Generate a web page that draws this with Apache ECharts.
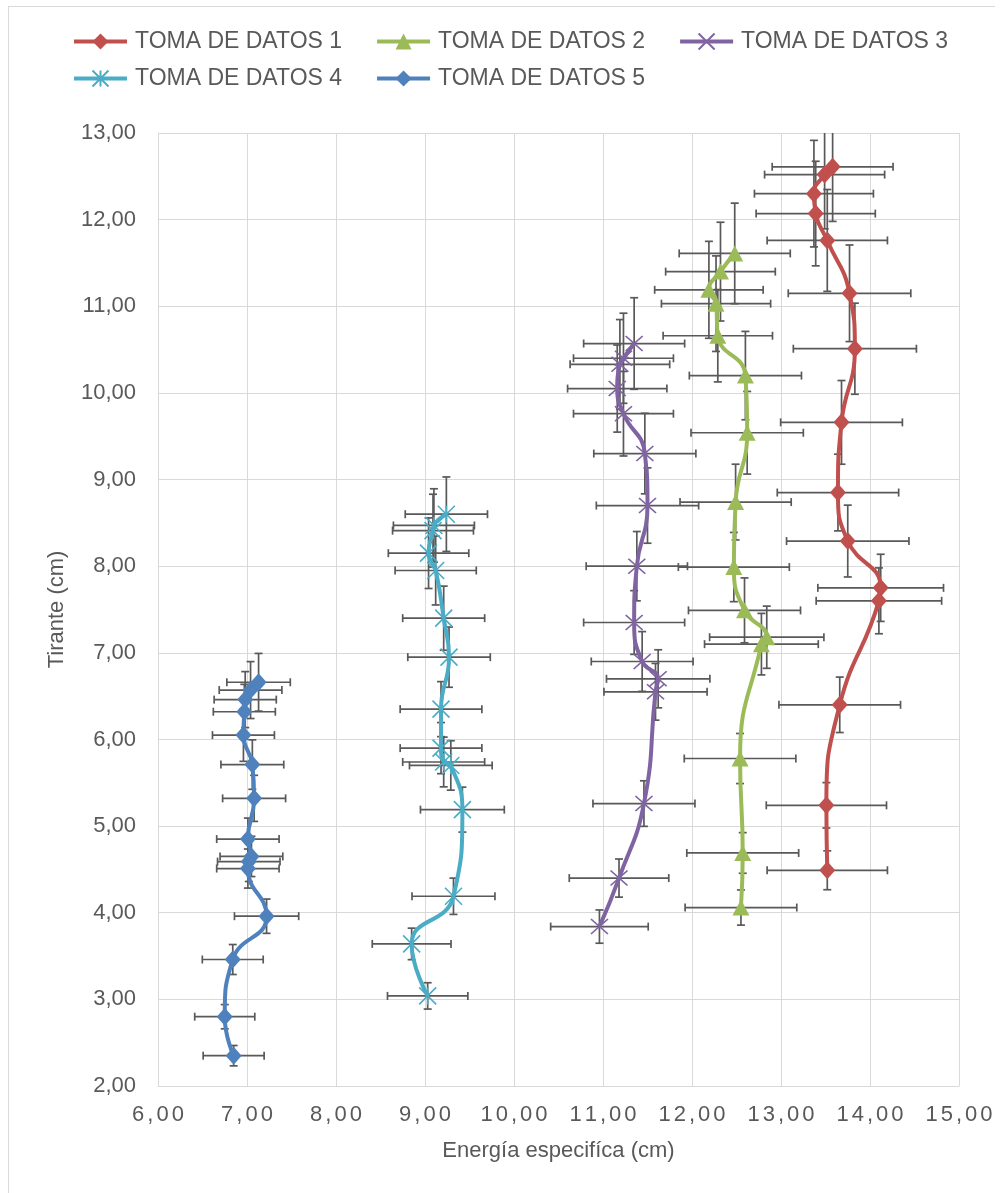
<!DOCTYPE html>
<html>
<head>
<meta charset="utf-8">
<script src="https://cdn.jsdelivr.net/npm/echarts@6/dist/echarts.min.js"></script>
<style>
html,body{margin:0;padding:0;background:#fff;}
#chart{width:1006px;height:1193px;}
</style>
</head>
<body>
<div id="chart"></div>
<script>
// ---- data ----
const seriesNames = ['TOMA DE DATOS 1','TOMA DE DATOS 2','TOMA DE DATOS 3','TOMA DE DATOS 4','TOMA DE DATOS 5'];

const toma1 = [[13.58,12.61],[13.49,12.52],[13.37,12.30],[13.39,12.07],[13.52,11.76],[13.77,11.15],[13.83,10.51],[13.68,9.66],[13.64,8.85],[13.75,8.29],[14.12,7.75],[14.10,7.60],[13.66,6.40],[13.51,5.24],[13.52,4.49]];
const toma2 = [[12.48,11.61],[12.32,11.40],[12.19,11.19],[12.27,11.03],[12.29,10.66],[12.60,10.20],[12.62,9.54],[12.49,8.74],[12.47,7.99],[12.59,7.49],[12.84,7.18],[12.78,7.10],[12.54,5.78],[12.57,4.69],[12.55,4.06]];
const toma3 = [[11.35,10.57],[11.23,10.40],[11.19,10.33],[11.16,10.05],[11.23,9.76],[11.47,9.30],[11.50,8.70],[11.38,8.00],[11.35,7.35],[11.44,6.90],[11.62,6.70],[11.59,6.55],[11.46,5.26],[11.18,4.40],[10.96,3.84]];
const toma4 = [[9.24,8.60],[9.10,8.47],[9.09,8.41],[9.04,8.15],[9.12,7.95],[9.21,7.40],[9.27,6.95],[9.18,6.35],[9.18,5.90],[9.21,5.74],[9.29,5.70],[9.42,5.19],[9.32,4.19],[8.85,3.64],[9.03,3.04]];
const toma5 = [[7.13,6.66],[7.04,6.57],[6.98,6.46],[6.97,6.32],[6.96,6.05],[7.06,5.71],[7.08,5.32],[7.01,4.85],[7.05,4.65],[7.02,4.59],[7.01,4.51],[7.22,3.96],[6.84,3.46],[6.75,2.80],[6.85,2.35]];

const xTicks = {min: 6, max: 15, interval: 1};
const yTicks = {min: 2, max: 13, interval: 1};
const errorFraction = 0.05; // error bars: 5% of each value

// ---- styling ----
const colors = ['#C0504D','#9BBB59','#8064A2','#4BACC6','#4F81BD'];
const FONT = '"Liberation Sans", Arial, sans-serif';
const TXT = '#595959';
const allData = [toma1,toma2,toma3,toma4,toma5];

const symbols = [
  {symbol:'diamond', size:[16,18], bw:0},
  {symbol:'triangle', size:[17,16], bw:0},
  {symbol:'path://M0,0 L10,10 M10,0 L0,10', size:[17,15], bw:1.6},
  {symbol:'path://M0,0 L10,10 M10,0 L0,10 M5,0 L5,10', size:[17,17], bw:1.6},
  {symbol:'diamond', size:[16,18], bw:0}
];

function fmt(v){ return v.toFixed(2).replace('.', ','); }

function renderErr(params, api){
  const x = api.value(0), y = api.value(1);
  const ex = x*errorFraction, ey = y*errorFraction;
  const c = api.coord([x,y]);
  const l = api.coord([x-ex,y]), r = api.coord([x+ex,y]);
  const t = api.coord([x,y+ey]), b = api.coord([x,y-ey]);
  const cap = 4;
  const st = {stroke:'#595959', lineWidth:1.7, fill:null};
  const L = (x1,y1,x2,y2)=>({type:'line', shape:{x1,y1,x2,y2}, style:st});
  return {type:'group', children:[
    L(l[0],c[1],r[0],c[1]),
    L(l[0],c[1]-cap,l[0],c[1]+cap),
    L(r[0],c[1]-cap,r[0],c[1]+cap),
    L(c[0],t[1],c[0],b[1]),
    L(c[0]-cap,t[1],c[0]+cap,t[1]),
    L(c[0]-cap,b[1],c[0]+cap,b[1])
  ]};
}

const series = [];
allData.forEach((d,i)=>{
  series.push({
    name: 'err'+i, type:'custom', coordinateSystem:'cartesian2d',
    renderItem: renderErr, data: d, encode:{x:0,y:1}, clip:true, z:1,
    silent:true
  });
});
allData.forEach((d,i)=>{
  series.push({
    name: seriesNames[i], type:'line', data:d, smooth:0.5, z:3,
    color: colors[i],
    symbol: symbols[i].symbol, symbolSize: symbols[i].size, showSymbol:true,
    lineStyle:{width:4, color:colors[i]},
    itemStyle:{color:colors[i], borderColor:colors[i], borderWidth:symbols[i].bw},
    emphasis:{disabled:true}
  });
});

const chart = echarts.init(document.getElementById('chart'), null, {renderer:'canvas'});
const legendCommon = {
  orient:'horizontal', itemWidth:53, itemHeight:20, itemGap:33, padding:0,
  lineStyle:{width:4},
  textStyle:{fontSize:23, color:TXT, fontFamily:FONT, padding:[0,0,0,3]},
  selectedMode:false
};
chart.setOption({
  animation:false,
  backgroundColor:'#fff',
  textStyle:{fontFamily:FONT},
  graphic:[
    {type:'line', shape:{x1:8,y1:6.5,x2:995,y2:6.5}, style:{stroke:'#d9d9d9', lineWidth:1}},
    {type:'line', shape:{x1:8.5,y1:6,x2:8.5,y2:1193}, style:{stroke:'#d9d9d9', lineWidth:1}}
  ],
  legend:[
    Object.assign({}, legendCommon, {data:seriesNames.slice(0,3), left:72, top:30}),
    Object.assign({}, legendCommon, {data:seriesNames.slice(3), left:72, top:67})
  ],
  grid:{left:158, right:47, top:133, bottom:107, containLabel:false},
  xAxis:{
    type:'value', min:xTicks.min, max:xTicks.max, interval:xTicks.interval,
    name:'Energía especifíca (cm)', nameLocation:'middle', nameGap:54,
    nameTextStyle:{fontSize:22, color:TXT, fontFamily:FONT},
    axisLine:{show:true, lineStyle:{color:'#d9d9d9', width:1}},
    axisTick:{show:false},
    splitLine:{show:true, lineStyle:{color:'#d9d9d9', width:1}},
    axisLabel:{
      margin:18, color:TXT, fontSize:22, fontFamily:FONT,
      formatter: v => fmt(v).split('').map(ch => '{c|'+ch+'}').join(''),
      rich:{c:{fontSize:22, color:TXT, fontFamily:FONT, padding:[0,1.5,0,1.5]}}
    }
  },
  yAxis:{
    type:'value', min:yTicks.min, max:yTicks.max, interval:yTicks.interval,
    name:'Tirante (cm)', nameLocation:'middle', nameGap:90,
    nameTextStyle:{fontSize:22, color:TXT, fontFamily:FONT},
    axisLine:{show:true, lineStyle:{color:'#d9d9d9', width:1}},
    axisTick:{show:false},
    splitLine:{show:true, lineStyle:{color:'#d9d9d9', width:1}},
    axisLabel:{margin:22, color:TXT, fontSize:22, fontFamily:FONT, formatter: v => fmt(v)}
  },
  series: series
});
</script>
</body>
</html>
